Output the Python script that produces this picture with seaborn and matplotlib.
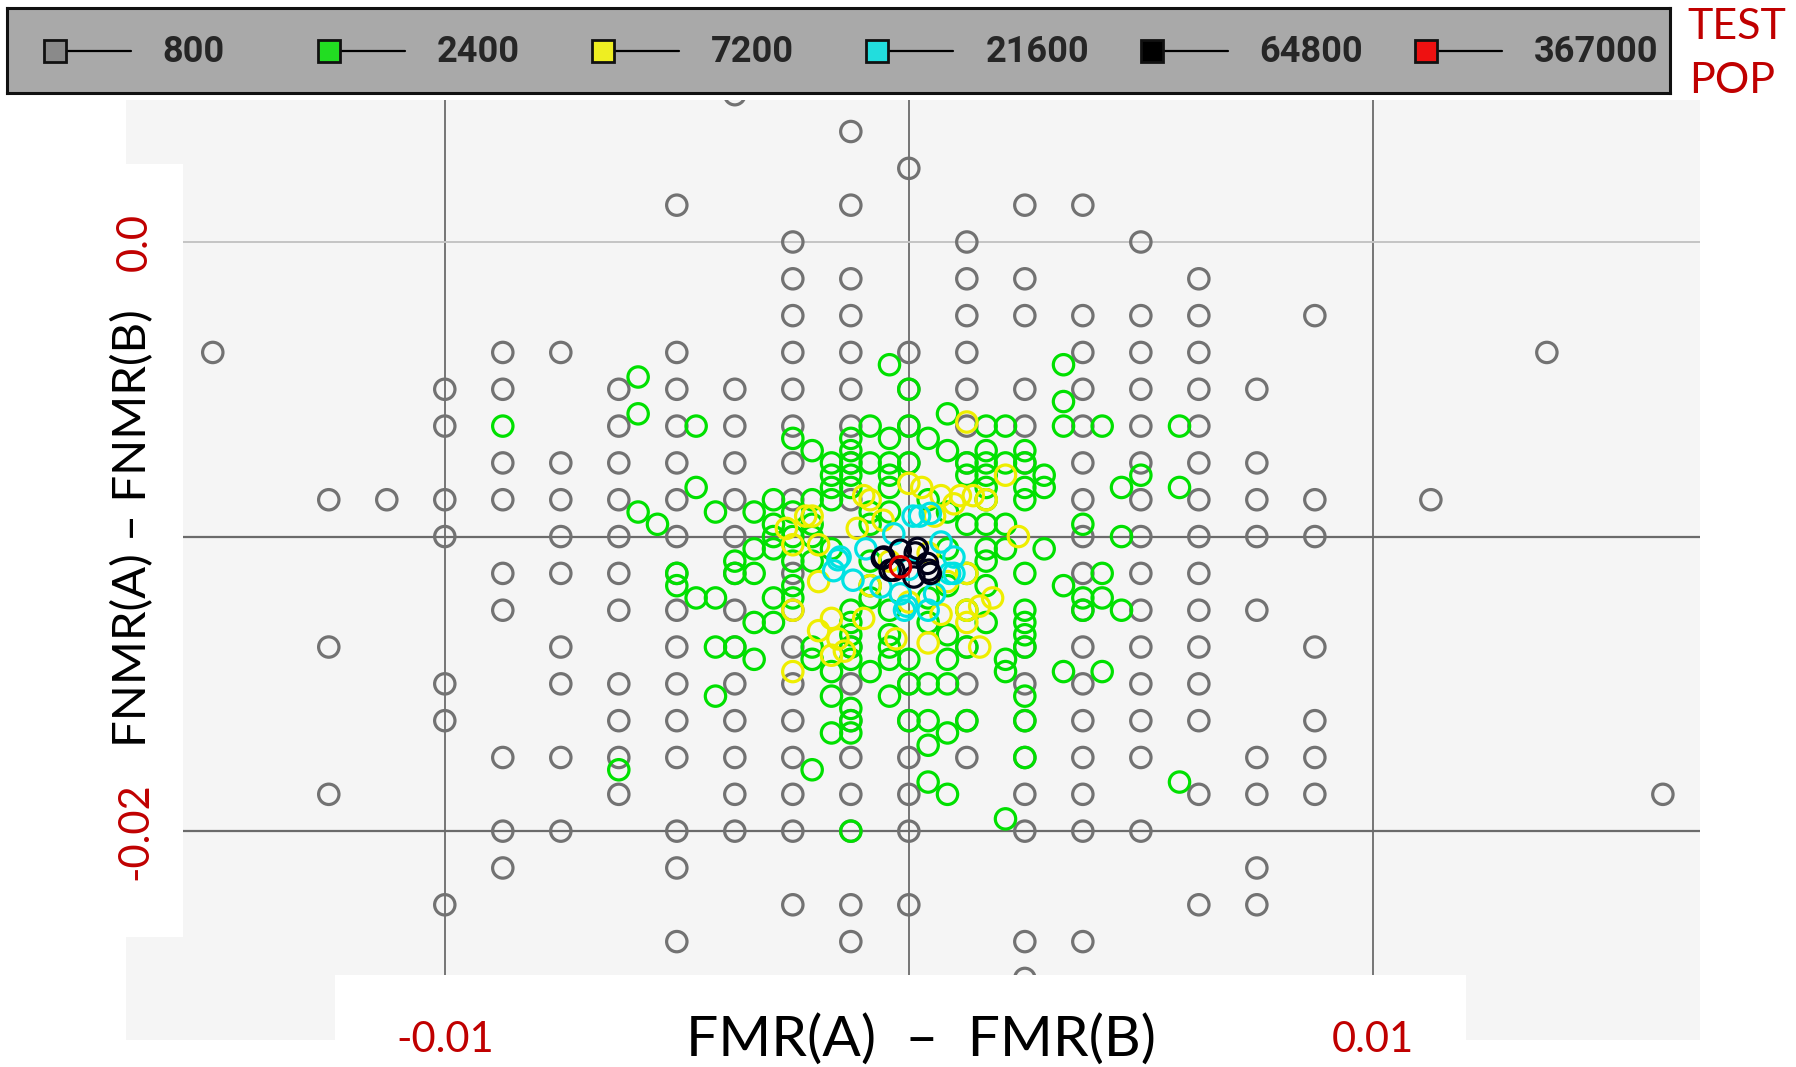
import numpy as np
import pandas as pd
import matplotlib.pyplot as plt
import seaborn as sns
from matplotlib.patches import Rectangle
from matplotlib.transforms import blended_transform_factory

# test population sizes, legend labels and colours
test_pops = [800, 2400, 7200, 21600, 64800, 367000]
pop_labels = ["800", "2400", "7200", "21600", "64800", "367000"]
pop_colors = ["#727272", "#00e000", "#eeee00", "#00e2e2", "#000018", "#e00000"]
legend_fill = ["#8a8a8a", "#22dd22", "#eeee22", "#22dddd", "#000000", "#ee1111"]

# values are error-count differences; divide by the test population
# 800: one row per FNMR step, with the FMR steps found in that row
pop800_rows = [4, 3, 2, 1, 0, -1, -2, -3, -4, -5, -6, -7, -8, -9, -10,
               -11, -12, -13, -14, -15, -16, -17, -18, -19, -20]
pop800_cols = [
    [-3], [-1], [0], [-4, -1, 2, 3], [-2, 1, 4], [-2, -1, 1, 2, 5],
    [-2, -1, 1, 2, 3, 4, 5, 7],
    [-12, -7, -6, -4, -2, -1, 0, 1, 3, 4, 5, 11],
    [-8, -7, -5, -4, -3, -2, -1, 0, 1, 2, 3, 4, 5, 6],
    [-8, -5, -4, -3, -2, -1, 0, 1, 2, 3, 4, 5],
    [-7, -6, -5, -4, -3, -2, -1, 0, 1, 2, 3, 4, 5, 6],
    [-10, -9, -8, -7, -6, -5, -4, -3, -2, -1, 3, 4, 5, 6, 7, 9],
    [-8, -6, -5, -4, -3, 3, 4, 5, 6, 7],
    [-7, -6, -5, -4, -3, -2, 3, 4, 5],
    [-7, -5, -4, -3, -2, 3, 4, 5, 6],
    [-10, -6, -4, -3, -2, -1, 1, 2, 3, 4, 5, 7],
    [-8, -6, -5, -4, -3, -2, -1, 0, 1, 2, 3, 4, 5],
    [-8, -5, -4, -3, -2, -1, 0, 1, 2, 3, 4, 5, 7],
    [-7, -6, -5, -4, -3, -2, -1, 0, 1, 2, 3, 4, 6, 7],
    [-10, -5, -3, -2, -1, 0, 2, 3, 5, 6, 7, 13],
    [-7, -6, -4, -3, -2, -1, 0, 2, 3, 4],
    [-7, -4, 6], [-8, -2, -1, 0, 5, 6], [-4, -1, 2, 3], [2],
]

pop2400_x = [-14, -14, -11, -11, -14, -13, -10, -8, -6, -5, -4, -4, -4, -4, -3, -3, -3, -3, -3, -2, -1, 0, 0, -1, -1, -1, -5, -6, -5, -21, -1,
             8, 2, 4, 5, 8, 8, 10, 14, 3, 3, 4, 4, 4, 5, 6, 6, 6, 6, 7, 7, 4, 4, 4, 11, 12, 14, 9, 11, 7,
             6, 8, 9, 9, 10, 10, 11, 6, 6, 6, 6, 5, 5, 6, 6, 6, 8, 10, 4, 4, 4, 2, 1, 2, 0, 1, 3, 2, 1, 1, 2, 14, 5,
             -7, -8, -9, -9, -8, -7, -6, -8, -7, -12, -12, -11, -10, -10, -9, -8, -10, -5, -5, -3, -3, -3, -3, -3, -4, -3, -3, -3, -4, -5, -15, -1, -1, -1, -1, 0, -5, -4, -6, -6, -5, -3,
             -2, -2, -1, 1, 2, 3, 2, 3, 2, 1, -2, -2, -7, -7, 5, 5, 3, 1, -1, -2, -6, 4, 3, 2, -4, -2, 0, 1, 2, 0, -2, -7]
pop2400_y = [-11, -14, -15, -20, -22, -23, -22, -22, -16, -17, -18, -19, -20, -21, -16, -17, -18, -19, -20, -15, -16, -12, -15, -18, -19, -20, -21, -22, -23, -15, -10,
             -10, -14, -15, -15, -13, -15, -15, -15, -18, -19, -17, -18, -19, -18, -17, -18, -20, -21, -19, -20, -20, -21, -23, -20, -19, -20, -23, -24, -25,
             -27, -28, -29, -30, -27, -29, -30, -30, -31, -32, -33, -34, -35, -37, -39, -42, -35, -35, -25, -26, -31, -32, -36, -36, -36, -39, -39, -40, -41, -44, -45, -44, -47,
             -25, -25, -26, -27, -27, -29, -29, -31, -31, -27, -28, -29, -29, -33, -33, -34, -37, -33, -34, -30, -31, -32, -33, -34, -37, -38, -39, -40, -40, -43, -43, -32, -33, -34, -37, -39, -26, -25, -24, -26, -24, -48,
             -22, -23, -22, -21, -22, -23, -25, -27, -28, -29, -28, -26, -24, -23, -23, -25, -30, -31, -30, -29, -28, -28, -33, -34, -35, -35, -34, -16, -17, -18, -18, -21]

pop7200_x = [-7, -6, -19, -16, -18, -14, -8, -14, -18, -12, -7, -12, -10, -18, -2, 9, 15, 17, 8, 10, 13, 11,
             3, 0, 9, 9, 5, 12, -4, 4, -6, 6, -15, 2, 5, 7, 11, 9, -11, -14, -3, 3, 0]
pop7200_y = [-62, -63, -70, -67, -74, -74, -70, -83, -90, -92, -92, -101, -100, -105, -97, -44, -57, -72, -62, -62, -87, -99,
             -98, -59, -81, -90, -91, -63, -68, -67, -84, -83, -67, -60, -62, -64, -89, -93, -97, -95, -78, -76, -88]

pop21600_x = [10, 2, -7, -32, -35, -26, -13, -4, -1, 9, 12, 21, 21, 5, 19, -33, -2, 15, -20, 0]
pop21600_y = [-199, -201, -214, -231, -241, -248, -253, -258, -267, -270, -258, -231, -243, -201, -243, -233, -270, -220, -225, -240]

pop64800_x = [-35, -12, 12, 26, 30, 7, -26, -37, 28, 9, -21]
pop64800_y = [-693, -678, -674, -707, -729, -737, -722, -696, -722, -684, -722]

pop367000_x = [-66]
pop367000_y = [-4047]

pop800_x = [c for row in pop800_cols for c in row]
pop800_y = [r for r, row in zip(pop800_rows, pop800_cols) for _ in row]

steps = {800: (pop800_x, pop800_y), 2400: (pop2400_x, pop2400_y),
         7200: (pop7200_x, pop7200_y), 21600: (pop21600_x, pop21600_y),
         64800: (pop64800_x, pop64800_y), 367000: (pop367000_x, pop367000_y)}
frames = []
for pop in test_pops:
    xs, ys = steps[pop]
    frames.append(pd.DataFrame({"fmr_diff": np.array(xs) / pop,
                                "fnmr_diff": np.array(ys) / pop,
                                "test_pop": pop}))
df = pd.concat(frames, ignore_index=True)

sns.set_theme(style="white")
plt.rcParams["font.family"] = ["Lato", "DejaVu Sans"]
narrow = ["Liberation Sans Narrow", "Roboto", "DejaVu Sans"]
red = "#c00000"

W, H = 1796, 1067
fig = plt.figure(figsize=(W / 100, H / 100), dpi=100)
fig.patch.set_facecolor("white")

# main plot area
ax = fig.add_axes([126 / W, 1 - 1040 / H, (1700 - 126) / W, (1040 - 100) / H])
ax.set_facecolor("#f5f5f5")
for x in [-0.01, 0.0, 0.01]:
    ax.axvline(x, color="#6b6b6b", lw=1.3, zorder=0.8)
ax.axhline(0.0, color="#c4c4c4", lw=1.4, zorder=0.8)
for y in [-0.01, -0.02]:
    ax.axhline(y, color="#6b6b6b", lw=1.6, zorder=0.8)

for pop, col in zip(test_pops, pop_colors):
    sns.scatterplot(data=df[df["test_pop"] == pop], x="fmr_diff", y="fnmr_diff",
                    color=col, facecolors="none", edgecolor=col, marker="o",
                    s=215, linewidth=2.3, legend=False, ax=ax, zorder=2)

ax.set_xlim(-0.01687, 0.01705)
ax.set_ylim(-0.02709, 0.00482)
ax.set_xlabel("")
ax.set_ylabel("")
ax.set_xticks([])
ax.set_yticks([])
for s in ax.spines.values():
    s.set_visible(False)

# white label panels over the plot
fig.add_artist(Rectangle((0, 1 - 937 / H), 183 / W, (937 - 164) / H,
                         transform=fig.transFigure, facecolor="white", edgecolor="none", zorder=2))
fig.add_artist(Rectangle((335 / W, 0), (1466 - 335) / W, (1067 - 975) / H,
                         transform=fig.transFigure, facecolor="white", edgecolor="none", zorder=2))

xtr = blended_transform_factory(ax.transData, fig.transFigure)
ytr = blended_transform_factory(fig.transFigure, ax.transData)
for v, lab in [(-0.01, "-0.01"), (0.01, "0.01")]:
    fig.text(v, 1 - 1040 / H, lab, transform=xtr, color=red, fontsize=30,
             ha="center", va="center", zorder=3)
for v, lab in [(0.0, "0.0"), (-0.02, "-0.02")]:
    fig.text(135 / W, v, lab, transform=ytr, color=red, fontsize=30, rotation=90,
             ha="center", va="center", zorder=3)
fig.text(921 / W, 1 - 1040 / H, "FMR(A)  \u2013  FMR(B)", fontsize=41, color="black",
         ha="center", va="center", zorder=3)
fig.text(133 / W, 1 - 528 / H, "FNMR(A) \u2013 FNMR(B)", fontsize=34, color="black",
         rotation=90, ha="center", va="center", zorder=3)
fig.text(1687 / W, 1 - 27 / H, "TEST", fontsize=31, color=red, ha="left", va="center")
fig.text(1689 / W, 1 - 81 / H, "POP", fontsize=31, color=red, ha="left", va="center")

# legend strip
lax = fig.add_axes([7 / W, 1 - 93 / H, (1670 - 7) / W, (93 - 8) / H])
lax.set_facecolor("#a9a9a9")
lax.set_xlim(7, 1670)
lax.set_ylim(93, 8)
lax.set_xticks([])
lax.set_yticks([])
for s in lax.spines.values():
    s.set_color("#111111")
    s.set_linewidth(2.2)
for k, (lab, fc) in enumerate(zip(pop_labels, legend_fill)):
    cx = 54.5 + 274.3 * k
    lax.plot([cx, cx + 76], [51, 51], color="black", lw=1.6)
    lax.plot([cx], [51], marker="s", ms=15.5, mfc=fc, mec="#111111", mew=2)
    lax.text(cx + 108, 52, lab, fontsize=26, family=narrow, weight="bold",
             ha="left", va="center")

fig.savefig("out.png", dpi=100)
